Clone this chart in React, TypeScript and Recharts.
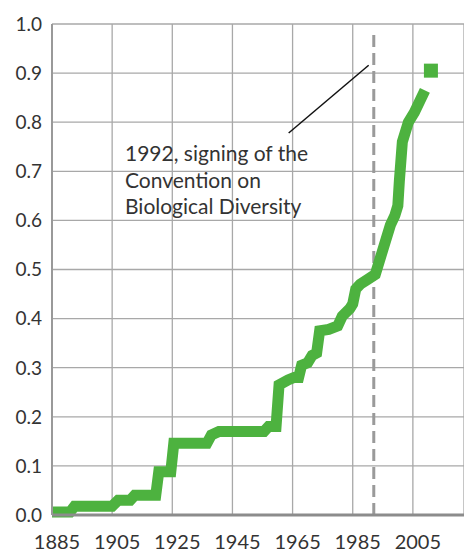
import React from 'react';
import { ComposedChart, Line, Scatter, XAxis, YAxis, CartesianGrid, ReferenceLine } from 'recharts';

const GREEN = '#4db23f';
const FONT = 'Lato, "Open Sans", sans-serif';

// points (corners of the steps)
const years = [
  1885, 1891, 1892.5, 1905, 1907, 1911, 1912.5, 1919.5, 1920.5, 1924.5, 1925.5, 1936.5, 1938, 1940.5,
  1955.5, 1957, 1959.5, 1960.5, 1963.5, 1965.5, 1967, 1968, 1970, 1971.5, 1973, 1974, 1977, 1980,
  1981.5, 1984, 1985, 1986, 1987.5, 1990, 1992.5, 1995, 1997.5, 1999, 2000, 2000.5, 2001.5, 2003.5,
  2005.5, 2009,
];
const values = [
  0.006, 0.006, 0.018, 0.018, 0.03, 0.03, 0.04, 0.04, 0.088, 0.088, 0.146, 0.146, 0.163, 0.17,
  0.17, 0.18, 0.18, 0.265, 0.275, 0.28, 0.28, 0.305, 0.31, 0.325, 0.33, 0.375, 0.378, 0.385,
  0.405, 0.42, 0.43, 0.46, 0.47, 0.48, 0.49, 0.54, 0.59, 0.61, 0.63, 0.68, 0.76, 0.8,
  0.82, 0.865,
];

// last, detached point
const lastYear = [2011];
const lastValue = [0.905];

const xTicks = [1885, 1905, 1925, 1945, 1965, 1985, 2005];
const yTicks = [0, 0.1, 0.2, 0.3, 0.4, 0.5, 0.6, 0.7, 0.8, 0.9, 1.0];

const treatyYear = 1992;
const noteLine = [{ x: 1990.3, y: 0.916 }, { x: 1963.7, y: 0.778 }];
const noteText = ['1992, signing of the', 'Convention on', 'Biological Diversity'];

const lineData = years.map((year, i) => ({ year, value: values[i] }));
const pointData = lastYear.map((year, i) => ({ year, value: lastValue[i] }));

const XTick = ({ x, y, payload }: any) => (
  <text x={x + 5} y={y + 26} textAnchor="middle" fontSize={20} fontFamily={FONT} fill="#333">
    {payload.value}
  </text>
);

const YTick = ({ x, y, payload }: any) => (
  <text x={x - 2} y={y} dy="0.36em" textAnchor="end" fontSize={19} fontFamily={FONT} fill="#333">
    {payload.value.toFixed(1)}
  </text>
);

const SquareDot = ({ cx, cy }: any) => <rect x={cx - 7} y={cy - 7} width={14} height={14} fill={GREEN} />;

export default function App() {
  return (
    <div style={{ position: 'absolute', left: 0, top: 0, width: 464, height: 553, background: '#fff' }}>
      <ComposedChart width={464} height={553} data={lineData} margin={{ top: 24, right: 0, bottom: 0, left: 0 }}>
        <CartesianGrid stroke="#a8a8a8" strokeWidth={1.3} />
        <XAxis
          dataKey="year"
          type="number"
          domain={[1885, 2022]}
          ticks={xTicks}
          height={38}
          tickLine={false}
          axisLine={{ stroke: '#8c8c8c', strokeWidth: 3 }}
          tick={<XTick />}
          allowDataOverflow
        />
        <YAxis
          type="number"
          domain={[0, 1]}
          ticks={yTicks}
          width={52}
          tickLine={false}
          axisLine={{ stroke: '#999', strokeWidth: 2 }}
          tick={<YTick />}
        />
        <ReferenceLine
          segment={[{ x: treatyYear, y: 0 }, { x: treatyYear, y: 0.98 }]}
          stroke="#9a9a9a"
          strokeWidth={3}
          strokeDasharray="12 6"
        />
        <ReferenceLine segment={noteLine} stroke="#111" strokeWidth={1.5} />
        <Line
          type="linear"
          dataKey="value"
          stroke={GREEN}
          strokeWidth={11}
          dot={false}
          activeDot={false}
          isAnimationActive={false}
        />
        <Scatter data={pointData} dataKey="value" fill={GREEN} shape={<SquareDot />} isAnimationActive={false} />
      </ComposedChart>
      <div
        style={{
          position: 'absolute',
          left: 125,
          top: 140,
          fontFamily: FONT,
          fontSize: 21,
          lineHeight: '26.5px',
          color: '#333',
          whiteSpace: 'nowrap',
        }}
      >
        {noteText.map((t) => (
          <div key={t}>{t}</div>
        ))}
      </div>
    </div>
  );
}
